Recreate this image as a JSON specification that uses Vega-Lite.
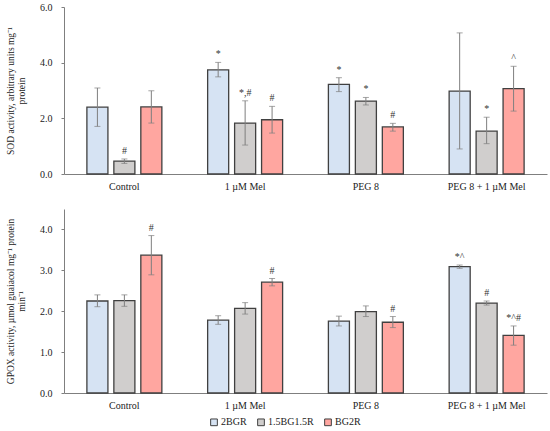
{
  "$schema": "https://vega.github.io/schema/vega-lite/v6.json",
  "padding": {"top": 2, "left": 5, "right": 5, "bottom": 2},
  "config": {
    "view": {"stroke": null},
    "font": "Liberation Serif",
    "axis": {"labelFont": "Liberation Serif", "titleFont": "Liberation Serif", "labelColor": "#222", "titleColor": "#222", "domainColor": "#7f7f7f", "tickColor": "#7f7f7f", "grid": false},
    "legend": {"labelFont": "Liberation Serif", "labelColor": "#222"}
  },
  "datasets": {
    "sod": [
      {"group": "Control", "series": "2BGR", "mean": 2.40, "lo": 1.71, "hi": 3.09, "sig": ""},
      {"group": "Control", "series": "1.5BG1.5R", "mean": 0.46, "lo": 0.38, "hi": 0.54, "sig": "#"},
      {"group": "Control", "series": "BG2R", "mean": 2.41, "lo": 1.83, "hi": 2.99, "sig": ""},
      {"group": "1 µM Mel", "series": "2BGR", "mean": 3.74, "lo": 3.49, "hi": 4.01, "sig": "*"},
      {"group": "1 µM Mel", "series": "1.5BG1.5R", "mean": 1.83, "lo": 1.04, "hi": 2.63, "sig": "*,#"},
      {"group": "1 µM Mel", "series": "BG2R", "mean": 1.95, "lo": 1.47, "hi": 2.43, "sig": "#"},
      {"group": "PEG 8", "series": "2BGR", "mean": 3.22, "lo": 2.96, "hi": 3.46, "sig": "*"},
      {"group": "PEG 8", "series": "1.5BG1.5R", "mean": 2.62, "lo": 2.48, "hi": 2.75, "sig": "*"},
      {"group": "PEG 8", "series": "BG2R", "mean": 1.69, "lo": 1.54, "hi": 1.82, "sig": "#"},
      {"group": "PEG 8 + 1 µM Mel", "series": "2BGR", "mean": 2.98, "lo": 0.90, "hi": 5.07, "sig": ""},
      {"group": "PEG 8 + 1 µM Mel", "series": "1.5BG1.5R", "mean": 1.54, "lo": 1.09, "hi": 2.04, "sig": "*"},
      {"group": "PEG 8 + 1 µM Mel", "series": "BG2R", "mean": 3.07, "lo": 2.26, "hi": 3.87, "sig": "^"}
    ],
    "gpox": [
      {"group": "Control", "series": "2BGR", "mean": 2.25, "lo": 2.11, "hi": 2.40, "sig": ""},
      {"group": "Control", "series": "1.5BG1.5R", "mean": 2.26, "lo": 2.12, "hi": 2.40, "sig": ""},
      {"group": "Control", "series": "BG2R", "mean": 3.37, "lo": 2.89, "hi": 3.85, "sig": "#"},
      {"group": "1 µM Mel", "series": "2BGR", "mean": 1.78, "lo": 1.68, "hi": 1.89, "sig": ""},
      {"group": "1 µM Mel", "series": "1.5BG1.5R", "mean": 2.07, "lo": 1.93, "hi": 2.21, "sig": ""},
      {"group": "1 µM Mel", "series": "BG2R", "mean": 2.71, "lo": 2.62, "hi": 2.80, "sig": "#"},
      {"group": "PEG 8", "series": "2BGR", "mean": 1.76, "lo": 1.64, "hi": 1.88, "sig": ""},
      {"group": "PEG 8", "series": "1.5BG1.5R", "mean": 1.99, "lo": 1.87, "hi": 2.13, "sig": ""},
      {"group": "PEG 8", "series": "BG2R", "mean": 1.73, "lo": 1.60, "hi": 1.87, "sig": "#"},
      {"group": "PEG 8 + 1 µM Mel", "series": "2BGR", "mean": 3.09, "lo": 3.05, "hi": 3.13, "sig": "*^"},
      {"group": "PEG 8 + 1 µM Mel", "series": "1.5BG1.5R", "mean": 2.20, "lo": 2.15, "hi": 2.25, "sig": "#"},
      {"group": "PEG 8 + 1 µM Mel", "series": "BG2R", "mean": 1.41, "lo": 1.17, "hi": 1.64, "sig": "*^#"}
    ]
  },
  "spacing": 18,
  "vconcat": [
    {
      "width": 483,
      "height": 167,
      "data": {"name": "sod"},
      "encoding": {
        "x": {"field": "group", "type": "nominal", "sort": null, "title": null,
          "scale": {"paddingInner": 0.33, "paddingOuter": 0.165},
          "axis": {"labelAngle": 0, "ticks": false, "labelPadding": 7, "labelFontSize": 10}},
        "xOffset": {"field": "series", "type": "nominal", "sort": ["2BGR", "1.5BG1.5R", "BG2R"],
          "scale": {"paddingInner": 0.22, "paddingOuter": 0.11}}
      },
      "layer": [
        {
          "mark": {"type": "bar", "stroke": "#404040", "strokeWidth": 1.3},
          "encoding": {
            "y": {"field": "mean", "type": "quantitative", "scale": {"domain": [0, 6]},
              "title": ["SOD activity, arbitrary units mg⁻¹", "protein"],
              "axis": {"values": [0, 2, 4, 6], "format": ".1f", "tickSize": 3, "labelFontSize": 10, "titleFontSize": 9.5, "titleFontWeight": "normal", "titlePadding": 13, "labelPadding": 9}},
            "color": {"field": "series", "type": "nominal", "sort": ["2BGR", "1.5BG1.5R", "BG2R"],
              "scale": {"domain": ["2BGR", "1.5BG1.5R", "BG2R"], "range": ["#d6e3f3", "#d0cecd", "#ffa6a0"]},
              "legend": {"orient": "none", "legendX": 145, "legendY": 410, "direction": "horizontal", "title": null, "symbolType": "square", "symbolSize": 45, "symbolStrokeColor": "#555", "symbolStrokeWidth": 1, "labelFontSize": 10, "columnPadding": 8, "labelOffset": 2}}
          }
        },
        {
          "mark": {"type": "rule", "color": "#7f7f7f", "strokeWidth": 1},
          "encoding": {"y": {"field": "lo", "type": "quantitative"}, "y2": {"field": "hi"}}
        },
        {
          "mark": {"type": "tick", "color": "#7f7f7f", "size": 6, "thickness": 1},
          "encoding": {"y": {"field": "lo", "type": "quantitative"}}
        },
        {
          "mark": {"type": "tick", "color": "#7f7f7f", "size": 6, "thickness": 1},
          "encoding": {"y": {"field": "hi", "type": "quantitative"}}
        },
        {
          "mark": {"type": "text", "baseline": "bottom", "dy": -3, "fontSize": 10, "color": "#333"},
          "encoding": {"y": {"field": "hi", "type": "quantitative"}, "text": {"field": "sig"}}
        }
      ]
    },
    {
      "width": 483,
      "height": 184,
      "data": {"name": "gpox"},
      "encoding": {
        "x": {"field": "group", "type": "nominal", "sort": null, "title": null,
          "scale": {"paddingInner": 0.33, "paddingOuter": 0.165},
          "axis": {"labelAngle": 0, "ticks": false, "labelPadding": 7, "labelFontSize": 10}},
        "xOffset": {"field": "series", "type": "nominal", "sort": ["2BGR", "1.5BG1.5R", "BG2R"],
          "scale": {"paddingInner": 0.22, "paddingOuter": 0.11}}
      },
      "layer": [
        {
          "mark": {"type": "bar", "stroke": "#404040", "strokeWidth": 1.3},
          "encoding": {
            "y": {"field": "mean", "type": "quantitative", "scale": {"domain": [0, 4.5]},
              "title": ["GPOX activity, µmol guaiacol mg⁻¹ protein", "min⁻¹"],
              "axis": {"values": [0, 1, 2, 3, 4], "format": ".1f", "tickSize": 3, "labelFontSize": 10, "titleFontSize": 9.5, "titleFontWeight": "normal", "titlePadding": 13, "labelPadding": 9}},
            "color": {"field": "series", "type": "nominal", "sort": ["2BGR", "1.5BG1.5R", "BG2R"],
              "scale": {"domain": ["2BGR", "1.5BG1.5R", "BG2R"], "range": ["#d6e3f3", "#d0cecd", "#ffa6a0"]}}
          }
        },
        {
          "mark": {"type": "rule", "color": "#7f7f7f", "strokeWidth": 1},
          "encoding": {"y": {"field": "lo", "type": "quantitative"}, "y2": {"field": "hi"}}
        },
        {
          "mark": {"type": "tick", "color": "#7f7f7f", "size": 6, "thickness": 1},
          "encoding": {"y": {"field": "lo", "type": "quantitative"}}
        },
        {
          "mark": {"type": "tick", "color": "#7f7f7f", "size": 6, "thickness": 1},
          "encoding": {"y": {"field": "hi", "type": "quantitative"}}
        },
        {
          "mark": {"type": "text", "baseline": "bottom", "dy": -3, "fontSize": 10, "color": "#333"},
          "encoding": {"y": {"field": "hi", "type": "quantitative"}, "text": {"field": "sig"}}
        }
      ]
    }
  ]
}
